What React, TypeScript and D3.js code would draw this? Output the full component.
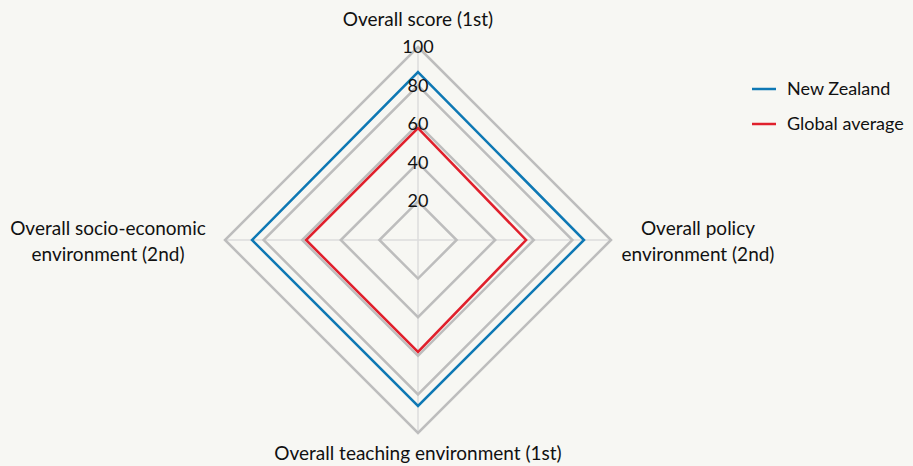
import React from 'react';
import * as d3 from 'd3';

const axisLabels = [
  ['Overall score (1st)'],
  ['Overall policy', 'environment (2nd)'],
  ['Overall teaching environment (1st)'],
  ['Overall socio-economic', 'environment (2nd)'],
];
const newZealand = [87, 86, 86, 86];
const globalAverage = [58, 56, 58, 58];
const tickValues = [20, 40, 60, 80, 100];
const seriesNames = ['New Zealand', 'Global average'];
const seriesColors = ['#0e78b4', '#e0202c'];

const width = 913;
const height = 466;
const font = 'Lato, "Noto Sans", sans-serif';

const App: React.FC = () => {
  const svgRef = React.useRef<SVGSVGElement>(null);

  React.useEffect(() => {
    const svg = d3.select(svgRef.current);
    svg.selectAll('*').remove();

    const cx = 418;
    const cy = 240;
    const r = d3.scaleLinear().domain([0, 100]).range([0, 193]);
    const angle = d3.scaleLinear().domain([0, axisLabels.length]).range([0, 2 * Math.PI]);

    svg.append('rect').attr('width', width).attr('height', height).attr('fill', '#f7f7f3');

    const g = svg.append('g').attr('transform', `translate(${cx},${cy})`);

    // spokes
    g.selectAll('.spoke')
      .data(axisLabels)
      .join('line')
        .attr('class', 'spoke')
        .attr('x1', 0)
        .attr('y1', 0)
        .attr('x2', (_, i) => Math.sin(angle(i)) * r(100))
        .attr('y2', (_, i) => -Math.cos(angle(i)) * r(100))
        .attr('stroke', '#dcdcdc')
        .attr('stroke-width', 1.5)
    ;

    const radial = d3.lineRadial<number>()
      .angle((_, i) => angle(i))
      .radius(d => r(d))
      .curve(d3.curveLinearClosed)
    ;

    // grid
    g.selectAll('.grid')
      .data(tickValues)
      .join('path')
        .attr('class', 'grid')
        .attr('d', t => radial(axisLabels.map(() => t)))
        .attr('fill', 'none')
        .attr('stroke', '#bdbdbd')
        .attr('stroke-width', 2.5)
    ;

    // series
    g.selectAll('.series')
      .data([newZealand, globalAverage])
      .join('path')
        .attr('class', 'series')
        .attr('d', d => radial(d))
        .attr('fill', 'none')
        .attr('stroke', (_, i) => seriesColors[i])
        .attr('stroke-width', 2.5)
    ;

    // tick labels
    g.selectAll('.tick')
      .data(tickValues)
      .join('text')
        .attr('class', 'tick')
        .attr('x', 0)
        .attr('y', t => -r(t) + 6)
        .attr('text-anchor', 'middle')
        .attr('font-family', font)
        .attr('font-size', 18)
        .attr('fill', '#111')
        .text(t => t)
    ;

    // axis labels
    const labelPos = [
      { x: 0, y: -214 },
      { x: 280, y: -5 },
      { x: 0, y: 220 },
      { x: -310, y: -5 },
    ];
    g.selectAll('.axis-label')
      .data(axisLabels)
      .join('text')
        .attr('class', 'axis-label')
        .attr('text-anchor', 'middle')
        .attr('font-family', font)
        .attr('font-size', 19)
        .attr('fill', '#111')
        .each(function (lines, i) {
          d3.select(this)
            .selectAll('tspan')
            .data(lines)
            .join('tspan')
              .attr('x', labelPos[i].x)
              .attr('y', (_, j) => labelPos[i].y + j * 26)
              .text(l => l)
          ;
        })
    ;

    // legend
    const legend = svg.append('g').attr('transform', 'translate(752, 89)');
    const item = legend.selectAll('.item')
      .data(seriesNames)
      .join('g')
        .attr('class', 'item')
        .attr('transform', (_, i) => `translate(0, ${i * 35})`)
    ;
    item.append('line')
      .attr('x1', 0)
      .attr('x2', 24)
      .attr('stroke', (_, i) => seriesColors[i])
      .attr('stroke-width', 2.5)
    ;
    item.append('text')
      .attr('x', 35)
      .attr('y', 6)
      .attr('font-family', font)
      .attr('font-size', 18)
      .attr('fill', '#111')
      .text(d => d)
    ;
  }, []);

  return (
    <svg
      ref={svgRef}
      width={width}
      height={height}
      style={{ position: 'absolute', left: 0, top: 0, display: 'block' }}
    />
  );
};

export default App;
